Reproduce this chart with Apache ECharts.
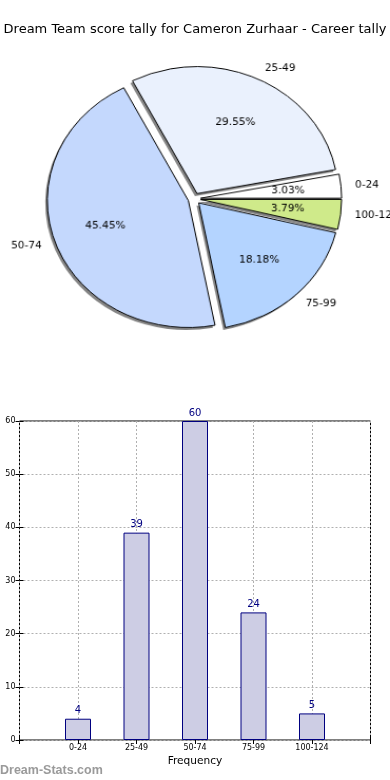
<!DOCTYPE html>
<html>
<head>
<meta charset="utf-8">
<script src="https://cdn.jsdelivr.net/npm/echarts@6/dist/echarts.min.js"></script>
<style>
  html, body { margin: 0; padding: 0; background: #fff; overflow: hidden; width: 390px; height: 780px; }
  #main { position: absolute; left: 0; top: 0; width: 390px; height: 780px; }
  #pie { position: absolute; left: 0; top: 0; width: 390px; height: 400px;
         transform-origin: 194.3px 198.7px; transform: scale(1.054, 0.949); }
</style>
</head>
<body>
<div id="main"></div>
<div id="pie"></div>
<script>
// ---- data ----
const titleText = 'Dream Team score tally for Cameron Zurhaar - Career tally';
const categories = ['0-24', '25-49', '50-74', '75-99', '100-124'];
const counts = [4, 39, 60, 24, 5];
const sliceColors = ['#ffffff', '#eaf1fd', '#c4d8fd', '#b4d4ff', '#cfea8a'];
const yTicks = [0, 10, 20, 30, 40, 50, 60];
const xAxisName = 'Frequency';
const watermark = 'Dream-Stats.com';

const FONT = 'DejaVu Sans';
const total = counts.reduce((a, b) => a + b, 0);

// ---- bar chart + title ----
const main = echarts.init(document.getElementById('main'), null, { renderer: 'canvas' });
const gridLine = { show: true, lineStyle: { color: '#b0b0b0', type: [2, 2], width: 1 } };
main.setOption({
  animation: false,
  title: {
    text: titleText, left: 'center', top: 23, padding: 0,
    textStyle: { fontFamily: FONT, fontSize: 13, fontWeight: 'normal', color: '#000' }
  },
  graphic: [{
    type: 'text', left: 0, top: 764,
    style: { text: watermark, fontFamily: 'Liberation Sans', fontWeight: 'bold', fontSize: 12.5, fill: '#9a9a9a' }
  }],
  grid: { left: 19.5, top: 421, width: 351, height: 319, show: true, borderColor: '#000', borderWidth: 1, backgroundColor: 'transparent' },
  xAxis: [{
    type: 'value', min: 0, max: categories.length + 1, interval: 1,
    axisLine: { show: false },
    axisTick: { show: true, inside: true, length: 4, lineStyle: { color: '#000' } },
    axisLabel: {
      fontFamily: FONT, fontSize: 8, color: '#000', margin: 4,
      formatter: v => (v >= 1 && v <= categories.length) ? categories[v - 1] : ''
    },
    splitLine: gridLine,
    name: xAxisName, nameLocation: 'middle', nameGap: 16,
    nameTextStyle: { fontFamily: FONT, fontSize: 10.6, color: '#000' }
  }, {
    type: 'value', position: 'top', min: 0, max: categories.length + 1, interval: 1,
    axisLine: { show: false }, axisLabel: { show: false }, splitLine: { show: false },
    axisTick: { show: true, inside: true, length: 4, lineStyle: { color: '#000' } }
  }],
  yAxis: [{
    type: 'value', min: yTicks[0], max: yTicks[yTicks.length - 1], interval: yTicks[1] - yTicks[0],
    axisLine: { show: false },
    axisTick: { show: true, inside: true, length: 4, lineStyle: { color: '#000' } },
    axisLabel: { fontFamily: FONT, fontSize: 8, color: '#000', margin: 4 },
    splitLine: gridLine
  }, {
    type: 'value', position: 'right', min: yTicks[0], max: yTicks[yTicks.length - 1], interval: yTicks[1] - yTicks[0],
    axisLine: { show: false }, axisLabel: { show: false }, splitLine: { show: false },
    axisTick: { show: true, inside: true, length: 4, lineStyle: { color: '#000' } }
  }],
  series: [{
    type: 'bar', xAxisIndex: 0, yAxisIndex: 0,
    barWidth: 26,
    data: categories.map((c, i) => [i + 1, counts[i]]),
    itemStyle: { color: '#cdcde4', borderColor: '#000080', borderWidth: 1 },
    label: { show: true, position: 'top', distance: 3, fontFamily: FONT, fontSize: 10, color: '#000080',
             formatter: p => String(p.value[1]) },
    emphasis: { disabled: true }
  }]
});

// ---- pie chart ----
const pie = echarts.init(document.getElementById('pie'), null, { renderer: 'canvas' });
const R = 133.8;
const offset = 6;
const CX = 194.3, CY = 198.7;
const pieData = categories.map((c, i) => ({ name: c, value: counts[i], selected: true, itemStyle: { color: sliceColors[i] } }));
const shadowData = categories.map((c, i) => ({ name: c, value: counts[i], selected: true }));
const labelData = categories.map((c, i) => ({ name: c, value: counts[i], selected: true }));
pie.setOption({
  animation: false,
  series: [{
    // drop shadow of each wedge
    type: 'pie', center: [CX - 2, CY + 2.6], radius: [0, R],
    startAngle: 0, clockwise: false, silent: true, z: 1,
    selectedMode: 'multiple', selectedOffset: offset,
    data: shadowData,
    itemStyle: { color: '#858585', borderWidth: 0 },
    select: { itemStyle: { color: '#858585', borderWidth: 0 } },
    label: { show: false }, labelLine: { show: false },
    emphasis: { disabled: true }
  }, {
    type: 'pie', center: [CX, CY], radius: [0, R], z: 2,
    startAngle: 0, clockwise: false,
    selectedMode: 'multiple', selectedOffset: offset,
    avoidLabelOverlap: false,
    data: pieData,
    itemStyle: { borderColor: '#000', borderWidth: 1 },
    select: { itemStyle: { borderColor: '#000', borderWidth: 1 } },
    label: { show: true, position: 'outside', fontFamily: FONT, fontSize: 10, color: '#000', distanceToLabelLine: 0,
             formatter: p => p.name },
    labelLine: { show: false, length: R * 0.1, length2: 0 },
    emphasis: { disabled: true }
  }, {
    type: 'pie', center: [CX, CY], radius: [0, R * 1.2], z: 3,
    startAngle: 0, clockwise: false, silent: true,
    selectedMode: 'multiple', selectedOffset: offset,
    avoidLabelOverlap: false,
    data: labelData,
    itemStyle: { color: 'rgba(0,0,0,0)', borderWidth: 0 },
    select: { itemStyle: { color: 'rgba(0,0,0,0)', borderWidth: 0 } },
    label: { show: true, position: 'inside', fontFamily: FONT, fontSize: 10, color: '#000',
             formatter: p => (p.value / total * 100).toFixed(2) + '%' },
    labelLine: { show: false },
    emphasis: { disabled: true }
  }]
});
</script>
</body>
</html>
